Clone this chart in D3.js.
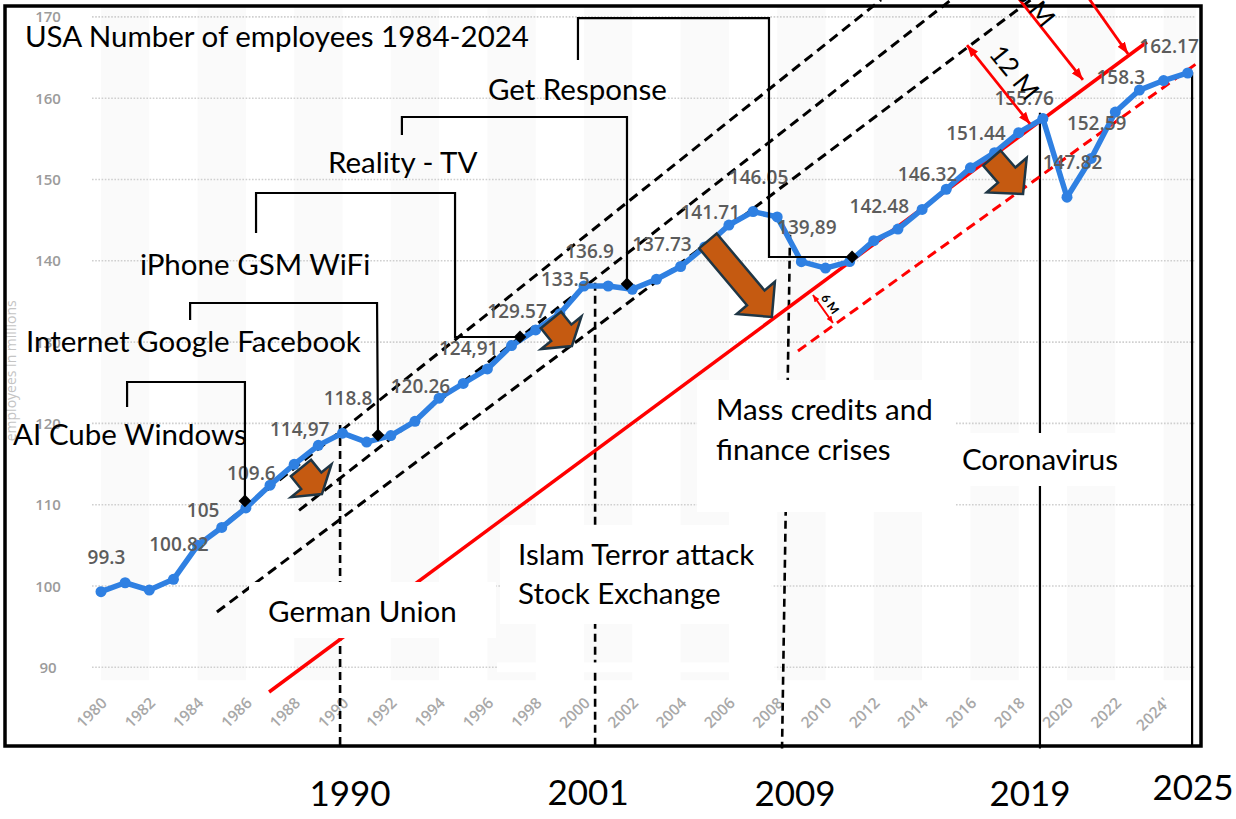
<!DOCTYPE html>
<html><head><meta charset="utf-8">
<script src="https://cdn.jsdelivr.net/npm/d3@7"></script>
<style>
html,body{margin:0;padding:0;background:#fff;}
svg{display:block;}
</style></head><body>
<svg id="chart" width="1236" height="819"></svg>
<script>
// ---------------- DATA ----------------
const years = d3.range(1980, 2026);
const employees = [99.3,100.4,99.5,100.82,105.0,107.2,109.6,112.4,114.97,117.3,
  118.8,117.7,118.5,120.26,123.1,124.91,126.7,129.57,131.5,133.5,
  136.9,136.9,136.5,137.73,139.3,141.71,144.4,146.05,145.4,139.89,
  139.1,139.9,142.48,143.9,146.32,148.8,151.44,153.3,155.76,157.5,
  147.82,152.59,158.3,161.0,162.17,163.1];
const labelYears = [1980,1983,1984,1986,1988,1990,1993,1995,1997,1999,2000,2003,2005,2007,2009,2012,2014,2016,2018,2020,2021,2022,2024];
const labelTexts = ["99.3","100.82","105","109.6","114,97","118.8","120.26","124,91","129.57","133.5","136.9","137.73","141.71","146.05","139,89","142.48","146.32","151.44","155.76","147.82","152.59","158.3","162.17"];
const yTicks = [90,100,110,120,130,140,150,160,170];
const xTickYears = d3.range(1980, 2025, 2);
const xTickLabels = xTickYears.map(v => v === 2024 ? "2024'" : String(v));
const yAxisTitle = "employees in millions";

// annotation geometry in data units [year, value]
const channelLines = [
  [[1984.8,106.9],[2012.3,172.1]],
  [[1988.2,109.3],[2015.2,172.1]],
  [[1984.8,96.8],[2018.5,172.1]]
];
const redTrend = [[1986.96,86.96],[2023.31,166.91]];
const redTrendLow = [[2008.86,128.91],[2025.34,164.21]];
const eventLines = [
  {from:[1989.9,119.8], to:[1989.9,80.0], dashed:true},
  {from:[2000.46,137.3], to:[2000.46,80.0], dashed:true},
  {from:[2008.53,143.2], to:[2008.2,80.0], dashed:true},
  {from:[2018.88,158.2], to:[2018.88,80.0], dashed:false},
  {from:[2025.18,163.2], to:[2025.18,80.4], dashed:false}
];
const eventYearLabels = [
  {text:"1990", at:[1990.31,72.94]},
  {text:"2001", at:[2000.17,73.1]},
  {text:"2009", at:[2008.74,72.94]},
  {text:"2019", at:[2018.47,72.94]},
  {text:"2025", at:[2025.22,73.68]}
];
const whiteBoxes = [
  [[1986.13,100.49],[1996.36,93.6]],
  [[1996.52,107.5],[2007.78,95.33]],
  [[2004.68,125.34],[2015.4,109.1]],
  [[2015.4,118.82],[2023.44,112.3]],
  [[1996.4,90.6],[2007.9,89.4]]
];
const notes = [
  {text:"USA Number of employees 1984-2024", at:[1976.85,166.3]},
  {text:"Get Response", at:[1996.02,159.78]},
  {text:"Reality - TV", at:[1989.40,150.80]},
  {text:"iPhone GSM WiFi", at:[1981.61,138.25]},
  {text:"Internet Google Facebook", at:[1976.89,128.78]},
  {text:"AI Cube Windows", at:[1976.36,117.34]},
  {text:"German Union", at:[1986.92,95.57]},
  {text:"Islam Terror attack", at:[1997.27,102.58]},
  {text:"Stock Exchange", at:[1997.27,97.79]},
  {text:"Mass credits and", at:[2005.47,120.42]},
  {text:"finance crises", at:[2005.47,115.50]},
  {text:"Coronavirus", at:[2015.65,114.27]}
];
const brackets = [
  [[1981.08,122.02],[1981.08,125.09],[1985.96,125.09],[1985.96,110.46]],
  [[1983.69,132.72],[1983.69,134.81],[1991.43,134.81],[1991.47,118.57]],
  [[1986.42,143.42],[1986.42,148.34],[1994.66,148.34],[1994.66,130.63],[1997.35,130.63]],
  [[1992.46,155.47],[1992.46,157.69],[2001.78,157.69],[2001.78,137.15]],
  [[1999.75,164.70],[1999.75,169.86],[2007.66,169.86],[2007.66,140.47],[2011.10,140.47]]
];
const diamonds = [[1985.96,110.46],[1991.47,118.57],[1997.35,130.63],[2001.78,137.15],[2011.10,140.47]];
const blockArrows = [
  {tail:[1988.28,114.51], tip:[1989.15,111.32], kind:"stub"},
  {tail:[1998.63,132.72], tip:[1999.50,129.52], kind:"stub"},
  {tail:[2005.13,142.44], tip:[2007.78,133.09], kind:"long"},
  {tail:[2016.89,152.64], tip:[2018.18,148.22], kind:"fat"}
];
const redArrows = [
  {from:[2009.48,135.79], to:[2010.31,132.35], both:true, kind:"tiny"},
  {from:[2015.86,166.54], to:[2018.47,156.83], both:true, kind:"mid"},
  {from:[2017.72,173.3], to:[2020.66,162.24], both:false, kind:"mid"},
  {from:[2020.66,173.3], to:[2022.53,165.44], both:false, kind:"mid"}
];
const redArrowLabels = [
  {text:"6 M", at:[2010.2,134.7], angle:55, kind:"tiny"},
  {text:"12 M", at:[2017.85,163.22], angle:51, kind:"mid"},
  {text:"18 M", at:[2018.51,172.2], angle:51, kind:"mid"}
];

// ---------------- LAYOUT ----------------
const W = 1236, H = 819;
const plotLeft = 92, plotRight = 1196;
const x = d3.scaleLinear().domain([1980, 2025]).range([101, 1187.75]);
const y = d3.scaleLinear().domain([90, 170]).range([667.3, 16.9]);
const P = d => [x(d[0]), y(d[1])];
const NOTE_FONT = "Lato, 'Open Sans', sans-serif";
const STAT_FONT = "'Open Sans', 'Noto Sans', sans-serif";

const svg = d3.select("#chart");
svg.append("rect").attr("width", W).attr("height", H).attr("fill", "#fff");

const defs = svg.append("defs");
[["mid",12,9],["tiny",7,6]].forEach(([k,len,wd]) => {
  defs.append("marker").attr("id","head-"+k)
    .attr("viewBox",`0 0 ${len} ${wd}`).attr("refX",len).attr("refY",wd/2)
    .attr("markerWidth",len).attr("markerHeight",wd).attr("markerUnits","userSpaceOnUse")
    .attr("orient","auto-start-reverse")
    .append("path").attr("d",`M0,0L${len},${wd/2}L0,${wd}Z`).attr("fill","#ff0000");
});

// plot bands
svg.append("g").selectAll("rect").data(d3.range(1980, 2025, 4)).join("rect")
  .attr("x", d => x(d)).attr("width", d => Math.min(x(d + 2), plotRight) - x(d))
  .attr("y", y(171.2)).attr("height", y(88.4) - y(171.2)).attr("fill", "#fafafa");

// grid
svg.append("g").selectAll("line").data(yTicks).join("line")
  .attr("x1", plotLeft).attr("x2", plotRight)
  .attr("y1", d => y(d)).attr("y2", d => y(d))
  .attr("stroke", "#cfcfcf").attr("stroke-width", 1.6).attr("stroke-dasharray", "1.6,1.6");

// y tick labels
svg.append("g").selectAll("text").data(yTicks).join("text")
  .attr("x", 48).attr("y", d => y(d) + 5.5).attr("text-anchor", "middle")
  .attr("font-family", STAT_FONT).attr("font-weight", 600).attr("font-size", 15)
  .attr("fill", "#9b9b9b").text(d => d);

// y axis title
svg.append("text").attr("transform", `translate(16,${y(117.8)}) rotate(-90)`)
  .attr("font-family", STAT_FONT).attr("font-size", 14).attr("fill", "#c4c4c4")
  .text(yAxisTitle);

// x tick labels
svg.append("g").selectAll("text").data(xTickYears).join("text")
  .attr("transform", d => `translate(${x(d) + 7},${704}) rotate(-45)`)
  .attr("text-anchor", "end")
  .attr("font-family", STAT_FONT).attr("font-weight", 600).attr("font-size", 15.5)
  .attr("fill", "#a8a8a8").text((d, i) => xTickLabels[i]);

// event lines
svg.append("g").selectAll("line").data(eventLines).join("line")
  .attr("x1", d => P(d.from)[0]).attr("y1", d => P(d.from)[1])
  .attr("x2", d => P(d.to)[0]).attr("y2", d => P(d.to)[1])
  .attr("stroke", "#000").attr("stroke-width", d => d.dashed ? 2.6 : 2.2)
  .attr("stroke-dasharray", d => d.dashed ? "8,5" : null);

// channel dashed lines
svg.append("g").selectAll("line").data(channelLines).join("line")
  .attr("x1", d => P(d[0])[0]).attr("y1", d => P(d[0])[1])
  .attr("x2", d => P(d[1])[0]).attr("y2", d => P(d[1])[1])
  .attr("stroke", "#000").attr("stroke-width", 3).attr("stroke-dasharray", "10,6");

// red trend lines
svg.append("line").attr("x1", P(redTrend[0])[0]).attr("y1", P(redTrend[0])[1])
  .attr("x2", P(redTrend[1])[0]).attr("y2", P(redTrend[1])[1])
  .attr("stroke", "#ff0000").attr("stroke-width", 3.5);
svg.append("line").attr("x1", P(redTrendLow[0])[0]).attr("y1", P(redTrendLow[0])[1])
  .attr("x2", P(redTrendLow[1])[0]).attr("y2", P(redTrendLow[1])[1])
  .attr("stroke", "#ff0000").attr("stroke-width", 3).attr("stroke-dasharray", "10,6");

// series
const series = years.map((yr, i) => ({year: yr, value: employees[i]}));
const line = d3.line().x(d => x(d.year)).y(d => y(d.value));
svg.append("path").datum(series).attr("d", line).attr("fill", "none")
  .attr("stroke", "#2f80e2").attr("stroke-width", 5.5).attr("stroke-linejoin", "round");
svg.append("g").selectAll("circle").data(series).join("circle")
  .attr("cx", d => x(d.year)).attr("cy", d => y(d.value)).attr("r", 5.5).attr("fill", "#2f80e2");

// data labels
svg.append("g").selectAll("text").data(labelYears).join("text")
  .attr("x", d => x(d) + 5.5)
  .attr("y", d => y(employees[years.indexOf(d)]) - 28)
  .attr("text-anchor", "middle")
  .attr("font-family", STAT_FONT).attr("font-weight", 600).attr("font-size", 19)
  .attr("fill", "#5c5c5c").text((d, i) => labelTexts[i]);

// white boxes behind notes
svg.append("g").selectAll("rect").data(whiteBoxes).join("rect")
  .attr("x", d => x(d[0][0])).attr("y", d => y(d[0][1]))
  .attr("width", d => x(d[1][0]) - x(d[0][0])).attr("height", d => y(d[1][1]) - y(d[0][1]))
  .attr("fill", "#fff");

// frame
svg.append("rect").attr("x", 5).attr("y", 6).attr("width", 1196).attr("height", 740)
  .attr("fill", "none").attr("stroke", "#000").attr("stroke-width", 3.5);

// notes
svg.append("g").selectAll("text").data(notes).join("text")
  .attr("x", d => P(d.at)[0]).attr("y", d => P(d.at)[1])
  .attr("font-family", NOTE_FONT).attr("font-size", 29.5).attr("fill", "#000")
  .text(d => d.text);

// event year labels
svg.append("g").selectAll("text").data(eventYearLabels).join("text")
  .attr("x", d => P(d.at)[0]).attr("y", d => P(d.at)[1]).attr("text-anchor", "middle")
  .attr("font-family", NOTE_FONT).attr("font-size", 35).attr("fill", "#000")
  .text(d => d.text);

// brackets
svg.append("g").selectAll("path").data(brackets).join("path")
  .attr("d", d => d3.line()(d.map(P))).attr("fill", "none")
  .attr("stroke", "#000").attr("stroke-width", 2.2);
svg.append("g").selectAll("rect").data(diamonds).join("rect")
  .attr("x", -4.5).attr("y", -4.5).attr("width", 9).attr("height", 9)
  .attr("transform", d => `translate(${P(d)[0]},${P(d)[1]}) rotate(45)`)
  .attr("fill", "#000");

// block arrows
const arrowStyle = {stub:{sw:26,hw:52,hl:17}, long:{sw:23,hw:50,hl:25}, fat:{sw:23,hw:53,hl:25}};
function blockArrow(t, p, s) {
  const dx = p[0]-t[0], dy = p[1]-t[1], L = Math.hypot(dx, dy);
  const ux = dx/L, uy = dy/L, nx = -uy, ny = ux;
  const b = [p[0]-ux*s.hl, p[1]-uy*s.hl];
  const pt = (o, k) => [o[0]+nx*k, o[1]+ny*k];
  return [pt(t, s.sw/2), pt(b, s.sw/2), pt(b, s.hw/2), p, pt(b, -s.hw/2), pt(b, -s.sw/2), pt(t, -s.sw/2)];
}
svg.append("g").selectAll("path").data(blockArrows).join("path")
  .attr("d", d => "M" + blockArrow(P(d.tail), P(d.tip), arrowStyle[d.kind]).map(q => q.join(",")).join("L") + "Z")
  .attr("fill", "#c55a11").attr("stroke", "#1f3645").attr("stroke-width", 2.5)
  .attr("stroke-linejoin", "miter");

// red arrows
svg.append("g").selectAll("line").data(redArrows).join("line")
  .attr("x1", d => P(d.from)[0]).attr("y1", d => P(d.from)[1])
  .attr("x2", d => P(d.to)[0]).attr("y2", d => P(d.to)[1])
  .attr("stroke", "#ff0000").attr("stroke-width", d => d.kind === "tiny" ? 2 : 2.8)
  .attr("marker-end", d => `url(#head-${d.kind})`)
  .attr("marker-start", d => d.both ? `url(#head-${d.kind})` : null);
svg.append("g").selectAll("text").data(redArrowLabels).join("text")
  .attr("transform", d => `translate(${P(d.at)[0]},${P(d.at)[1]}) rotate(${d.angle})`)
  .attr("text-anchor", "middle").attr("dominant-baseline", "central")
  .attr("font-family", NOTE_FONT).attr("font-size", d => d.kind === "tiny" ? 12 : 26)
  .attr("font-weight", d => d.kind === "tiny" ? 700 : 400)
  .attr("fill", "#000").text(d => d.text);
</script>
</body></html>
